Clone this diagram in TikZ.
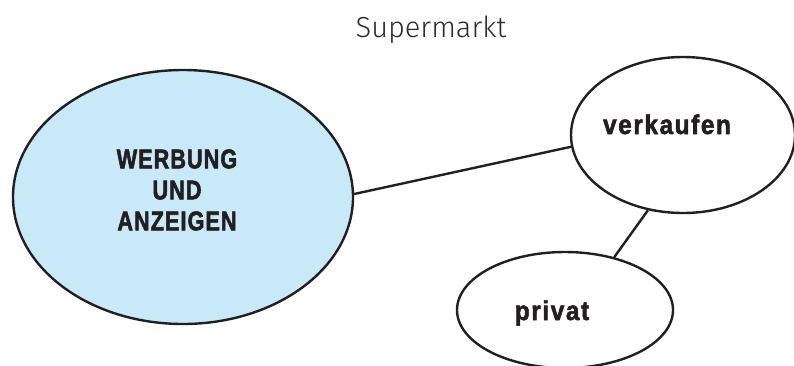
\documentclass[tikz,border=0pt]{standalone}
\usepackage{fontspec}
\setmainfont{Liberation Sans}
\newfontfamily\capsfont[FakeStretch=0.8,FakeBold=2,LetterSpace=4]{Liberation Sans}
\newfontfamily\wordfont[FakeStretch=0.9,FakeBold=2,LetterSpace=6]{Liberation Sans}
\newfontfamily\thinfont{Fira Sans Light}
\usetikzlibrary{shapes}
\usepackage{xcolor}

\definecolor{inkblack}{RGB}{35,31,32}
\definecolor{bubbleblue}{RGB}{200,233,248}
\definecolor{headgray}{RGB}{45,45,45}

\tikzset{
  bubble/.style={ellipse, draw=inkblack, line width=2.4pt, inner sep=0pt},
  link/.style={draw=inkblack, line width=2.4pt},
  bigword/.style={font=\capsfont\bfseries\fontsize{27}{31}\selectfont, text=inkblack, align=center},
  smallword/.style={font=\wordfont\bfseries\fontsize{27}{31}\selectfont, text=inkblack, anchor=base}
}

\begin{document}
\begin{tikzpicture}[x=1pt, y=-1pt]
     \useasboundingbox (0,0) rectangle (794,365);
     % ellipses
     \node [bubble, fill=bubbleblue, minimum width=340pt, minimum height=254pt] (werbung) at (183,197) {};
     \node [bubble, fill=white, minimum width=224pt, minimum height=156pt] (verkaufen) at (683,135) {};
     \node [bubble, fill=white, minimum width=216pt, minimum height=116pt] (privat) at (565,310) {};
     % connecting lines
     \draw [link] (werbung.1) -- (verkaufen.186);
     \draw [link] (verkaufen.245) -- (privat.47);
     % texts
     \node [bigword] (werbungtext) at (177,190) {WERBUNG\\UND\\ANZEIGEN};
     \node [smallword] (verkaufentext) at (667,134) {verkaufen};
     \node [smallword] (privattext) at (552,320) {privat};
     \node [anchor=base, text=headgray, font=\thinfont\fontsize{29}{33}\selectfont] (title) at (431,37) {Supermarkt};
\end{tikzpicture}
\end{document}
